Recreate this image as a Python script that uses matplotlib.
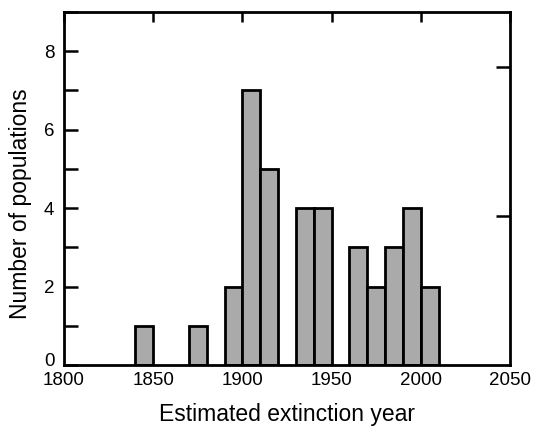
import matplotlib
matplotlib.use("Agg")
import matplotlib.pyplot as plt
from matplotlib.ticker import MultipleLocator, FixedLocator, NullFormatter
from matplotlib.transforms import ScaledTranslation

plt.rcParams['font.family'] = ['Liberation Sans', 'DejaVu Sans']

bin_starts = [1840, 1870, 1890, 1900, 1910, 1930, 1940, 1960, 1970, 1980, 1990, 2000]
counts = [1, 1, 2, 7, 5, 4, 4, 3, 2, 3, 4, 2]
bin_width = 10
x_ticks = [1800, 1850, 1900, 1950, 2000, 2050]
y_ticks = [0, 2, 4, 6, 8]
total = sum(counts)

fig = plt.figure(figsize=(5.37, 4.28), dpi=100)
ax = fig.add_axes([64/537, 1-365/428, (510-64)/537, (365-12)/428])

ax.bar(bin_starts, counts, width=bin_width, align='edge',
       color='#aaaaaa', edgecolor='black', linewidth=2.0, zorder=2)

ax.set_xlim(1800, 2050)
ax.set_ylim(0, 9)
for s in ax.spines.values():
    s.set_linewidth(2.0)
    s.set_zorder(3)

ax.set_xticks(x_ticks)
ax.set_xticklabels([str(t) for t in x_ticks], fontsize=13.5)
ax.tick_params(axis='x', which='major', bottom=False, top=True, direction='in',
               length=7.5, width=1.8, pad=5)
ax.set_yticks(y_ticks)
ax.set_yticklabels([str(t) for t in y_ticks], fontsize=13.5)
ax.yaxis.set_minor_locator(MultipleLocator(1))
ax.tick_params(axis='y', which='both', left=True, right=False, direction='in',
               length=10, width=1.8, pad=7)
zero_label = ax.get_yticklabels()[0]
zero_label.set_transform(zero_label.get_transform()
                         + ScaledTranslation(0, 4/72, fig.dpi_scale_trans))

ax2 = ax.twinx()
ax2.set_ylim(0, 9/total)
ax2.yaxis.set_major_locator(FixedLocator([0.1, 0.2]))
ax2.yaxis.set_major_formatter(NullFormatter())
ax2.tick_params(axis='y', direction='in', length=10, width=1.8)
for s in ax2.spines.values():
    s.set_visible(False)

ax.set_xlabel('Estimated extinction year', fontsize=16.5, labelpad=10)
ax.set_ylabel('Number of populations', fontsize=16.5)
ax.yaxis.set_label_coords(-0.072, 0.456)

fig.savefig('out.png', dpi=100)
